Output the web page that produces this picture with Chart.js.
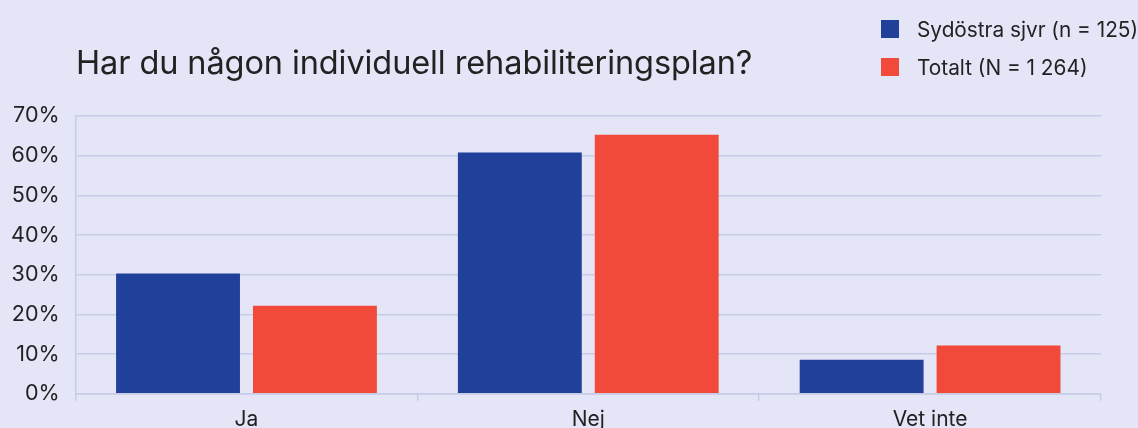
<!DOCTYPE html>
<html><head><meta charset="utf-8">
<script src="https://cdn.jsdelivr.net/npm/chart.js@4/dist/chart.umd.min.js"></script>
<style>
html,body{margin:0;padding:0;background:#E4E5F7;}
#wrap{position:relative;width:1138px;height:428px;background:#E4E5F7;font-family:Inter,"Noto Sans",sans-serif;color:#222;}
#title{position:absolute;left:76px;top:43px;font-size:32.5px;line-height:40px;font-weight:400;letter-spacing:-0.1px;white-space:nowrap;}
#legend{position:absolute;left:881px;top:10px;}
.li{display:flex;align-items:center;height:38px;font-size:20.8px;white-space:nowrap;}
.sw{width:18px;height:18px;margin-right:18px;}
canvas{position:absolute;left:0;top:0;}
</style></head>
<body><div id="wrap">
<canvas id="c" width="1138" height="428"></canvas>
<div id="title">Har du någon individuell rehabiliteringsplan?</div>
<div id="legend"></div>
</div>
<script>
const categories = ["Ja", "Nej", "Vet inte"];
const seriesNames = ["Sydöstra sjvr (n = 125)", "Totalt (N = 1 264)"];
const sydostra = [30.3, 60.8, 8.6];
const totalt = [22.2, 65.3, 12.2];
const yTicks = [0, 10, 20, 30, 40, 50, 60, 70];
const colors = ["#21409A", "#F24A3A"];

const grid = "#C6CBE6";
const chart = new Chart(document.getElementById("c"), {
  type: "bar",
  data: {
    labels: categories,
    datasets: [
      {label: seriesNames[0], data: sydostra, backgroundColor: colors[0], categoryPercentage: 0.801, barPercentage: 0.905},
      {label: seriesNames[1], data: totalt, backgroundColor: colors[1], categoryPercentage: 0.801, barPercentage: 0.905}
    ]
  },
  options: {
    responsive: false,
    animation: false,
    devicePixelRatio: 1,
    layout: {padding: {top: 116, right: 37, left: -5, bottom: -10}},
    plugins: {legend: {display: false}, tooltip: {enabled: false}},
    scales: {
      x: {
        grid: {display: true, drawOnChartArea: false, color: grid, tickLength: 7, lineWidth: 1.5},
        border: {color: grid, width: 1.5},
        ticks: {color: "#222", font: {family: "Inter", size: 21}, padding: 6}
      },
      y: {
        min: 0, max: 70,
        afterBuildTicks: (s) => { s.ticks = yTicks.map(v => ({value: v})); },
        grid: {color: grid, lineWidth: 1.5, drawTicks: false},
        border: {color: grid, width: 1.5},
        ticks: {color: "#222", font: {family: "Inter", size: 21.5}, padding: 16, callback: v => v + "%"}
      }
    }
  }
});
const lg = document.getElementById("legend");
chart.data.datasets.forEach(ds => {
  const d = document.createElement("div"); d.className = "li";
  const s = document.createElement("div"); s.className = "sw"; s.style.background = ds.backgroundColor;
  const t = document.createElement("span"); t.textContent = ds.label;
  d.appendChild(s); d.appendChild(t); lg.appendChild(d);
});
</script>
</body></html>
